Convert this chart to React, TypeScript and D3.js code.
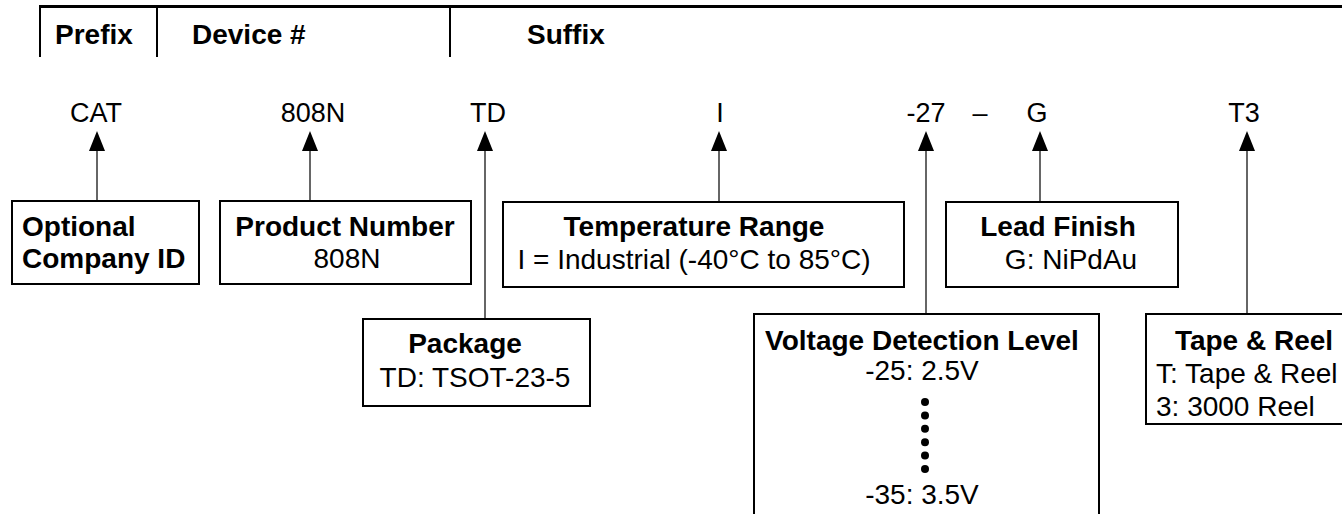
import React, { useEffect, useRef } from 'react';
import * as d3 from 'd3';

// header columns
const headerLabels = ['Prefix', 'Device #', 'Suffix'];

// part number fields, left to right
const codeLabels = ['CAT', '808N', 'TD', 'I', '-27', 'G', 'T3'];

// description boxes (one per field)
const boxTitles = [
  ['Optional', 'Company ID'],
  ['Product Number'],
  ['Package'],
  ['Temperature Range'],
  ['Voltage Detection Level'],
  ['Lead Finish'],
  ['Tape & Reel'],
];
const boxLines = [
  [],
  ['808N'],
  ['TD: TSOT-23-5'],
  ['I = Industrial (-40°C to 85°C)'],
  ['-25: 2.5V', '-35: 3.5V'],
  ['G: NiPdAu'],
  ['T: Tape & Reel', '3: 3000 Reel'],
];

// layout
const W = 1342;
const H = 514;
const headerX = [40, 157, 450];
const headerTextX = [55, 192, 527];
const codeTextX = [96, 313, 488, 720, 926, 1037, 1244];
const arrowX = [97, 310, 485, 719, 926, 1040, 1247];
// [x0, y0, x1, y1]
const boxRects = [
  [12, 201, 199, 284],
  [220, 201, 471, 284],
  [363, 319, 590, 406],
  [503, 202, 904, 287],
  [754, 314, 1099, 540],
  [946, 202, 1178, 287],
  [1146, 314, 1370, 424],
];

const FONT = '"Liberation Sans", Arial, Helvetica, sans-serif';

const App = () => {
  const ref = useRef<SVGSVGElement>(null);

  useEffect(() => {
    const svg = d3.select(ref.current);
    svg.selectAll('*').remove();
    svg.append('rect').attr('width', W).attr('height', H).attr('fill', '#fff');

    // header bar
    svg.append('line')
      .attr('x1', headerX[0]).attr('x2', W)
      .attr('y1', 6.5).attr('y2', 6.5)
      .attr('stroke', '#000').attr('stroke-width', 3);
    headerX.forEach((x) => {
      svg.append('line')
        .attr('x1', x).attr('x2', x)
        .attr('y1', 5).attr('y2', 57)
        .attr('stroke', '#000').attr('stroke-width', 2);
    });
    headerLabels.forEach((t, i) => {
      svg.append('text')
        .attr('x', headerTextX[i]).attr('y', 44)
        .attr('font-family', FONT).attr('font-weight', 'bold').attr('font-size', 28)
        .text(t);
    });

    // codes
    codeLabels.forEach((t, i) => {
      svg.append('text')
        .attr('x', codeTextX[i]).attr('y', 122)
        .attr('text-anchor', 'middle')
        .attr('font-family', FONT).attr('font-size', 27)
        .text(t);
    });
    // dash between -27 and G
    svg.append('text')
      .attr('x', 980).attr('y', 122)
      .attr('text-anchor', 'middle')
      .attr('font-family', FONT).attr('font-size', 27)
      .text('–');

    // arrows
    arrowX.forEach((x, i) => {
      const top = boxRects[i][1];
      svg.append('line')
        .attr('x1', x).attr('x2', x)
        .attr('y1', 150).attr('y2', top)
        .attr('stroke', '#333').attr('stroke-width', 1.5);
      const path = d3.path();
      path.moveTo(x, 131);
      path.lineTo(x + 8, 151);
      path.lineTo(x - 8, 151);
      path.closePath();
      svg.append('path').attr('d', path.toString()).attr('fill', '#000');
    });

    // boxes
    boxRects.forEach(([x0, y0, x1, y1]) => {
      svg.append('rect')
        .attr('x', x0).attr('y', y0)
        .attr('width', x1 - x0).attr('height', y1 - y0)
        .attr('fill', '#fff')
        .attr('stroke', '#000').attr('stroke-width', 2);
    });

    const txt = (x, y, t, bold, anchor = 'middle') =>
      svg.append('text')
        .attr('x', x).attr('y', y)
        .attr('text-anchor', anchor)
        .attr('font-family', FONT)
        .attr('font-weight', bold ? 'bold' : 'normal')
        .attr('font-size', 28)
        .text(t);

    // Optional Company ID
    boxTitles[0].forEach((t, j) => txt(22, 236 + j * 32, t, true, 'start'));
    // Product Number
    txt(345, 236, boxTitles[1][0], true);
    txt(347, 268, boxLines[1][0], false);
    // Package
    txt(465, 353, boxTitles[2][0], true);
    txt(475, 387, boxLines[2][0], false);
    // Temperature Range
    txt(694, 236, boxTitles[3][0], true);
    txt(694, 269, boxLines[3][0], false);
    // Voltage Detection Level
    txt(922, 350, boxTitles[4][0], true);
    txt(922, 380, boxLines[4][0], false);
    txt(922, 504, boxLines[4][1], false);
    d3.range(6).forEach((k) => {
      svg.append('circle')
        .attr('cx', 925).attr('cy', 402 + k * 13.4)
        .attr('r', 4).attr('fill', '#000');
    });
    // Lead Finish
    txt(1058, 236, boxTitles[5][0], true);
    txt(1071, 269, boxLines[5][0], false);
    // Tape & Reel
    txt(1254, 350, boxTitles[6][0], true);
    boxLines[6].forEach((t, j) => txt(1156, 383 + j * 33, t, false, 'start'));
  }, []);

  return (
    <svg
      ref={ref}
      width={W}
      height={H}
      style={{ position: 'absolute', left: 0, top: 0, display: 'block' }}
    />
  );
};

export default App;
